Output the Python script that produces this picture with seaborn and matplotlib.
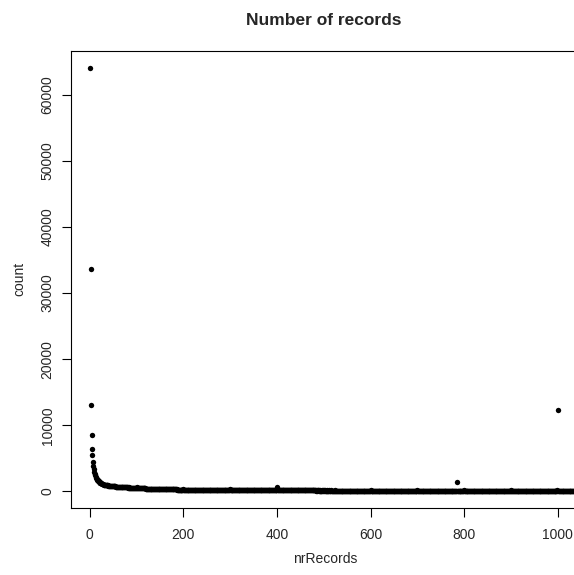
import numpy as np
import pandas as pd
import matplotlib
matplotlib.use("Agg")
import matplotlib.pyplot as plt
import seaborn as sns

# counts, one value per nrRecords = 1, 2, 3, ...
head_counts = [64100, 33700, 13100, 8500, 6450, 5500, 4500, 3900, 3400, 3000,
               2700, 2450, 2250, 2080, 1930, 1800, 1690, 1590, 1510, 1440]

counts_21_200 = [
    1370, 1300, 1290, 1220, 1210, 1150, 1140, 1090, 1090, 1040, 1040, 1000, 995, 970, 965, 940, 940, 910, 905, 890,
    885, 865, 870, 840, 845, 820, 825, 800, 805, 790, 785, 770, 775, 755, 755, 740, 742, 728, 730, 712,
    715, 700, 705, 688, 690, 675, 680, 662, 668, 650, 655, 642, 645, 630, 635, 620, 625, 612, 615, 600,
    602, 590, 595, 580, 585, 570, 575, 562, 566, 552, 556, 545, 548, 535, 540, 528, 532, 520, 525, 600,
    515, 508, 512, 498, 502, 490, 494, 480, 486, 472, 478, 465, 470, 458, 462, 450, 455, 443, 448, 436,
    441, 430, 434, 422, 428, 416, 420, 410, 414, 404, 408, 398, 402, 393, 396, 388, 391, 383, 386, 378,
    381, 373, 377, 368, 372, 363, 367, 359, 362, 354, 358, 350, 353, 346, 349, 342, 345, 338, 341, 334,
    337, 330, 334, 326, 330, 322, 326, 319, 322, 315, 318, 312, 315, 308, 311, 305, 308, 302, 305, 299,
    302, 296, 299, 293, 296, 290, 293, 287, 290, 284, 287, 282, 285, 279, 282, 277, 280, 274, 277, 420,
]

counts_201_400 = [
    275, 268, 279, 265, 272, 262, 276, 260, 270, 258, 268, 256, 265, 254, 263, 252, 261, 250, 259, 249,
    257, 247, 255, 246, 253, 244, 252, 243, 250, 241, 249, 240, 247, 239, 246, 238, 245, 236, 244, 235,
    243, 234, 241, 233, 240, 232, 238, 231, 237, 230, 236, 229, 235, 228, 234, 227, 233, 226, 232, 225,
    231, 224, 230, 223, 229, 222, 228, 221, 227, 221, 226, 220, 225, 219, 224, 218, 223, 218, 222, 217,
    221, 216, 220, 215, 219, 215, 218, 214, 217, 213, 216, 213, 215, 212, 214, 211, 213, 211, 212, 300,
    211, 204, 209, 215, 200, 206, 198, 212, 203, 207, 196, 209, 201, 205, 194, 210, 199, 203, 197, 206,
    193, 204, 200, 191, 207, 198, 195, 202, 189, 200, 196, 193, 205, 190, 198, 194, 187, 201, 195, 192,
    199, 186, 194, 190, 197, 185, 192, 189, 195, 184, 191, 188, 193, 183, 190, 186, 192, 182, 189, 185,
    191, 181, 188, 184, 190, 180, 186, 183, 188, 179, 185, 182, 187, 178, 184, 181, 186, 177, 183, 180,
    185, 176, 182, 179, 184, 175, 181, 178, 183, 174, 180, 177, 182, 173, 179, 176, 181, 190, 210, 720,
]

counts_401_600 = [
    200, 178, 172, 176, 170, 175, 169, 174, 168, 173, 167, 172, 166, 171, 165, 170, 164, 169, 163, 168,
    162, 167, 161, 166, 160, 165, 159, 164, 158, 166, 161, 157, 163, 159, 156, 162, 158, 155, 161, 157,
    154, 160, 156, 153, 159, 155, 152, 158, 154, 151, 157, 153, 150, 156, 152, 149, 155, 151, 148, 154,
    150, 147, 153, 149, 146, 152, 148, 145, 151, 147, 144, 150, 146, 143, 149, 145, 142, 148, 144, 141,
    147, 143, 140, 146, 142, 139, 145, 141, 138, 144, 140, 137, 143, 139, 136, 142, 138, 135, 141, 250,
    140, 136, 142, 138, 134, 141, 137, 133, 140, 136, 143, 135, 139, 132, 138, 141, 134, 137, 131, 139,
    136, 130, 138, 135, 141, 133, 137, 129, 136, 140, 132, 135, 138, 130, 134, 137, 131, 139, 133, 128,
    135, 138, 132, 136, 130, 134, 137, 129, 133, 136, 131, 127, 135, 132, 138, 130, 134, 128, 133, 136,
    130, 135, 129, 132, 137, 128, 134, 131, 126, 133, 136, 130, 128, 135, 132, 127, 134, 130, 129, 133,
    128, 131, 135, 127, 132, 129, 134, 126, 130, 133, 128, 131, 127, 134, 129, 132, 126, 130, 128, 190,
]

counts_601_800 = [
    131, 127, 133, 129, 125, 132, 128, 134, 126, 130, 127, 133, 128, 125, 131, 129, 126, 132, 127, 130,
    125, 131, 128, 124, 130, 127, 133, 125, 129, 126, 132, 124, 128, 130, 125, 127, 131, 123, 129, 126,
    128, 124, 130, 126, 123, 129, 127, 131, 124, 126, 128, 122, 130, 125, 127, 123, 129, 126, 124, 128,
    122, 127, 125, 129, 123, 126, 121, 128, 124, 127, 122, 125, 129, 123, 126, 120, 127, 124, 122, 126,
    123, 128, 121, 125, 127, 122, 124, 120, 126, 123, 128, 121, 125, 122, 127, 120, 124, 126, 121, 170,
    124, 121, 126, 119, 123, 125, 120, 124, 122, 127, 119, 123, 121, 125, 118, 124, 122, 120, 126, 121,
    119, 123, 125, 118, 122, 120, 124, 117, 123, 121, 119, 125, 118, 122, 120, 124, 117, 121, 123, 119,
    122, 118, 124, 120, 117, 123, 121, 119, 125, 116, 122, 120, 118, 124, 117, 121, 119, 123, 116, 120,
    118, 122, 117, 121, 119, 115, 123, 118, 120, 116, 122, 119, 117, 121, 115, 120, 118, 122, 116, 119,
    117, 121, 115, 120, 1480, 118, 122, 116, 119, 117, 121, 115, 118, 120, 116, 119, 114, 121, 117, 160,
]

counts_801_1040 = [
    118, 115, 120, 117, 113, 119, 116, 121, 114, 118, 116, 120, 113, 117, 119, 115, 121, 114, 118, 116,
    112, 119, 115, 117, 120, 113, 116, 118, 114, 119, 112, 117, 115, 120, 113, 116, 118, 114, 117, 111,
    116, 119, 113, 115, 118, 112, 117, 114, 119, 111, 116, 113, 118, 115, 112, 117, 114, 110, 116, 118,
    113, 115, 111, 117, 114, 118, 112, 115, 110, 116, 113, 117, 111, 114, 116, 112, 115, 110, 117, 113,
    111, 116, 114, 110, 115, 112, 117, 111, 114, 109, 116, 113, 110, 115, 112, 114, 109, 116, 111, 150,
    113, 110, 115, 112, 109, 114, 111, 116, 108, 113, 110, 115, 112, 109, 114, 111, 107, 113, 110, 112,
    108, 114, 111, 109, 113, 107, 112, 110, 115, 108, 111, 113, 109, 106, 112, 110, 114, 108, 111, 109,
    112, 107, 110, 113, 108, 111, 106, 112, 109, 107, 113, 110, 108, 111, 105, 112, 109, 107, 110, 108,
    106, 111, 109, 112, 107, 110, 105, 108, 111, 106, 109, 112, 107, 104, 110, 108, 106, 111, 105, 109,
    107, 110, 104, 108, 111, 106, 109, 105, 107, 110, 104, 108, 106, 109, 103, 107, 110, 105, 160, 12300,
    108, 104, 107, 105, 109, 103, 106, 108, 104, 107, 102, 106, 108, 103, 105, 107, 102, 106, 104, 101,
    105, 107, 102, 104, 106, 101, 105, 103, 100, 106, 102, 104, 101, 105, 103, 100, 104, 102, 99, 103,
]

x_ticks = [0, 200, 400, 600, 800, 1000]
y_ticks = [0, 10000, 20000, 30000, 40000, 50000, 60000]

counts = head_counts + counts_21_200 + counts_201_400 + counts_401_600 + counts_601_800 + counts_801_1040
df = pd.DataFrame({"nrRecords": np.arange(1, len(counts) + 1), "count": counts})

sns.set_style("white")
plt.rcParams["font.family"] = ["Liberation Sans", "DejaVu Sans"]

fig = plt.figure(figsize=(5.74, 5.75), dpi=100)
# R-like plot region, the right edge runs past the image border
ax = fig.add_axes([70.7 / 574, 1 - 507.7 / 575, 525.3 / 574, 457.0 / 575])

sns.scatterplot(data=df, x="nrRecords", y="count", color="black", s=15,
                linewidth=0, ax=ax, legend=False)

# R pads the range by 4%
xr = df["nrRecords"].max() - df["nrRecords"].min()
ax.set_xlim(df["nrRecords"].min() - 0.04 * xr, df["nrRecords"].max() + 0.04 * xr)
yr = df["count"].max() - df["count"].min()
ax.set_ylim(df["count"].min() - 0.04 * yr, df["count"].max() + 0.04 * yr)

ax.set_xticks(x_ticks)
ax.set_yticks(y_ticks)
ax.set_xticklabels([str(t) for t in x_ticks], fontsize=10)
ax.set_yticklabels([str(t) for t in y_ticks], fontsize=10, rotation=90, va="center")
ax.tick_params(axis="both", direction="out", length=6.5, width=0.8, color="black")
ax.tick_params(axis="x", pad=8, bottom=True)
ax.tick_params(axis="y", pad=5, left=True)

for side in ["left", "top", "bottom", "right"]:
    ax.spines[side].set_color("black")
    ax.spines[side].set_linewidth(0.8)

ax.set_xlabel("nrRecords", fontsize=10)
ax.set_ylabel("count", fontsize=10)
ax.xaxis.label.set_va("center")
ax.yaxis.label.set_va("center")
ax.xaxis.set_label_coords(0.484, -0.112)
ax.yaxis.set_label_coords(-0.097, 0.5)

fig.text(324 / 574, 1 - 20.7 / 575, "Number of records", ha="center", va="center",
         fontsize=12.5, fontweight="bold")

fig.savefig("out.png", dpi=100)
